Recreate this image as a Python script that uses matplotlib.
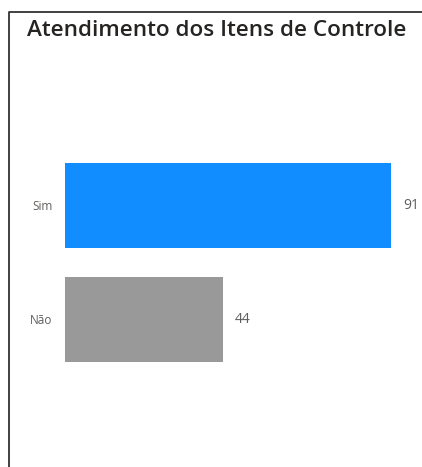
import matplotlib.pyplot as plt
from matplotlib.lines import Line2D

# data
categories = ['Sim', 'Não']
values = [91, 44]
colors = ['#118DFF', '#999999']

W, H = 422, 467
fig = plt.figure(figsize=(W / 100, H / 100), dpi=100)
fig.patch.set_facecolor('white')

# frame around the visual: only left and top edges show
fx, fy = 8.5 / W, 1 - 11.5 / H
fig.add_artist(Line2D([fx, fx, 1.0], [0.0, fy, fy], transform=fig.transFigure,
                      color='#333333', linewidth=1.3))

fig.text(27 / W, 1 - 31 / H, 'Atendimento dos Itens de Controle',
         fontsize=16.2, color='#252423', va='center', ha='left',
         family='Open Sans', weight='semibold')

# axes placed so the bars land where they are in the reference
left, right = 65, 65 + 358.2
top, bottom = 148.5, 376.5
ax = fig.add_axes([left / W, 1 - bottom / H, (right - left) / W, (bottom - top) / H])

ypos = list(range(len(categories)))
bars = ax.barh(ypos, values, height=0.75, color=colors)
ax.set_xlim(0, 100)
ax.set_ylim(1.5, -0.5)
ax.set_yticks(ypos)
ax.set_yticklabels(categories, fontsize=8.5, color='#605E5C', family='Open Sans')
ax.tick_params(axis='y', length=0, pad=9)
ax.set_xticks([])
for s in ax.spines.values():
    s.set_visible(False)
ax.set_facecolor('none')

for b, v in zip(bars, values):
    ax.text(b.get_width() + 3.3, b.get_y() + b.get_height() / 2, str(v),
            va='center', ha='left', fontsize=10, color='#605E5C',
            family='Open Sans', clip_on=False)

fig.savefig('out.png', dpi=100)
